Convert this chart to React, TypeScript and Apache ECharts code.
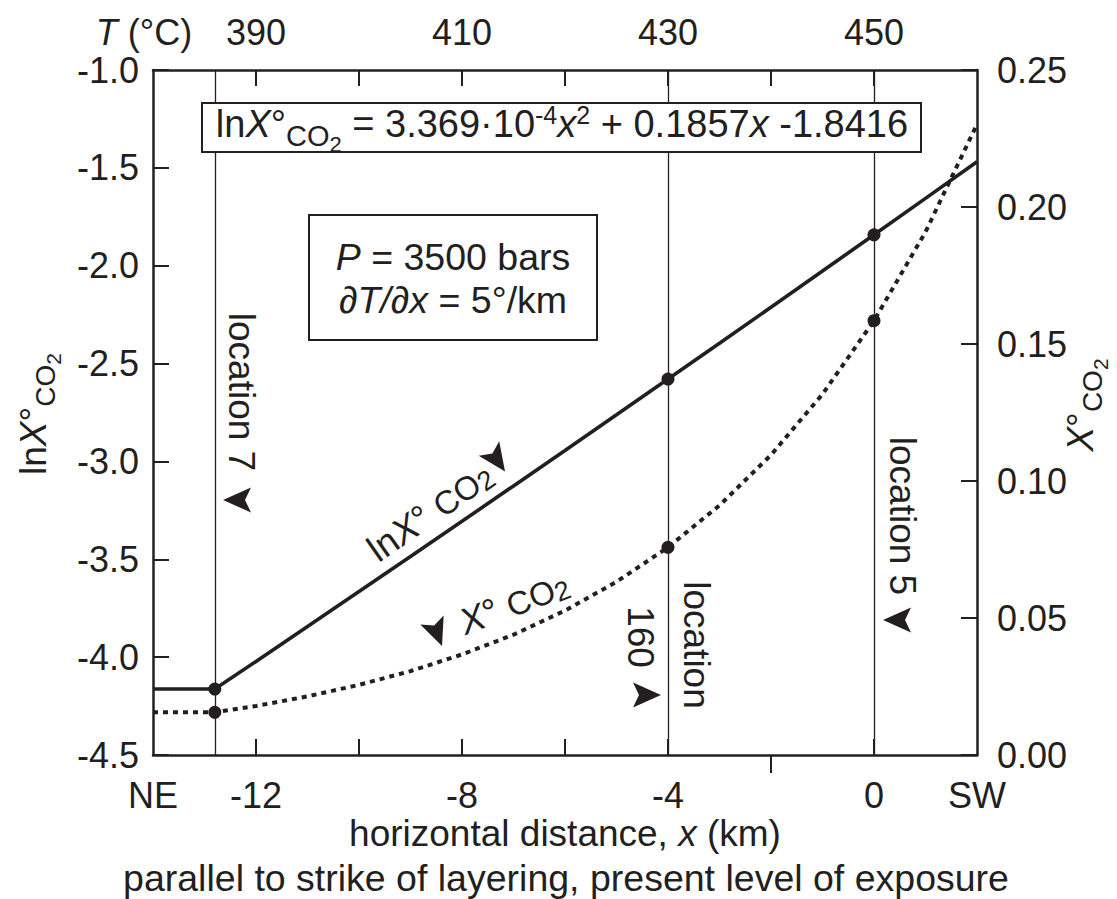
import React, { useEffect, useRef } from 'react';
import * as echarts from 'echarts';

// ---------- values ----------
const distanceKm = [-14, -12.8, -12, -11, -10, -9, -8, -7, -6, -5, -4, -3, -2, -1, 0, 1, 2];
const lnXco2 = [-4.163, -4.163, -4.022, -3.844, -3.665, -3.486, -3.306, -3.125, -2.944, -2.762, -2.579, -2.396, -2.212, -2.027, -1.842, -1.656, -1.469];
const xco2 = [0.0156, 0.0156, 0.0179, 0.0214, 0.0256, 0.0306, 0.0367, 0.0439, 0.0527, 0.0632, 0.0758, 0.0911, 0.1095, 0.1317, 0.1585, 0.1909, 0.2302];

const locationKm = [-12.8, -4, 0];
const locationLnX = [-4.163, -2.579, -1.842];
const locationX = [0.0156, 0.0758, 0.1585];

const distanceLabelValues = [-14, -12, -8, -4, 0, 2];
const distanceEndNames = ['NE', 'SW'];
const distanceTicksInside = [-12, -10, -8, -6, -4, 0];
const distanceTicksOutside = [-2];
const tempLabelValues = [390, 410, 430, 450];
const tempTickValues = [390, 400, 410, 420, 430, 440, 450];

const INK = '#231f20';
const FONT = '"Liberation Sans", Arial, Helvetica, sans-serif';

let measureCtx: CanvasRenderingContext2D | null = null;
function textWidth(t: string, size: number, italic: boolean): number {
  if (!measureCtx) measureCtx = document.createElement('canvas').getContext('2d');
  if (!measureCtx) return t.length * size * 0.55;
  measureCtx.font = `${italic ? 'italic ' : ''}${size}px ${FONT}`;
  return measureCtx.measureText(t).width;
}

type Tok = { t: string; s?: number; i?: boolean; dy?: number; dx?: number };

function tokenGroup(tokens: Tok[], base: number, x: number, y: number, rotation = 0, z = 20): any {
  let cursor = 0;
  const placed = tokens.map((tok) => {
    const s = tok.s ?? base;
    const start = cursor + (tok.dx ?? 0);
    cursor = start + textWidth(tok.t, s, !!tok.i);
    const dy = 0.34 * (base - s) + (tok.dy ?? 0);
    return { tok, s, start, dy };
  });
  const off = -cursor / 2;
  return {
    type: 'group',
    x,
    y,
    rotation,
    z,
    children: placed.map(({ tok, s, start, dy }) => ({
      type: 'text',
      x: off + start,
      y: dy,
      z,
      style: {
        text: tok.t,
        fontSize: s,
        fontFamily: FONT,
        fontStyle: tok.i ? 'italic' : 'normal',
        fill: INK,
        align: 'left',
        verticalAlign: 'middle',
        lineHeight: Math.round(s * 0.8),
      },
    })),
  };
}

function arrowHead(x: number, y: number, deg: number, z = 20): any {
  const L = 28;
  const W = 25;
  const N = 6;
  return {
    type: 'polygon',
    x,
    y,
    rotation: (deg * Math.PI) / 180,
    z,
    shape: {
      points: [
        [L / 2, 0],
        [-L / 2, -W / 2],
        [-L / 2 + N, 0],
        [-L / 2, W / 2],
      ],
    },
    style: { fill: INK },
  };
}

const deg = (d: number) => (d * Math.PI) / 180;

function buildOption(): any {
  const axisLine = { show: true, onZero: false, lineStyle: { color: INK, width: 2.5 } };
  const tickStyle = { color: INK, width: 2 };
  const labelBase = { color: INK, fontSize: 36, fontFamily: FONT, lineHeight: 28 };

  return {
    animation: false,
    backgroundColor: '#ffffff',
    textStyle: { fontFamily: FONT, color: INK },
    grid: { left: 153, top: 70, width: 824, height: 685, containLabel: false },
    xAxis: [
      {
        type: 'value',
        position: 'bottom',
        min: -14,
        max: 2,
        interval: 2,
        axisLine,
        axisTick: { show: true, inside: true, length: 16, customValues: distanceTicksInside, lineStyle: tickStyle },
        axisLabel: {
          ...labelBase,
          margin: 26,
          customValues: distanceLabelValues,
          formatter: (v: number) =>
            v === distanceLabelValues[0] ? distanceEndNames[0] : v === distanceLabelValues[distanceLabelValues.length - 1] ? distanceEndNames[1] : String(v),
        },
        splitLine: { show: false },
      },
      {
        type: 'value',
        position: 'bottom',
        min: -14,
        max: 2,
        interval: 2,
        axisLine: { show: false, onZero: false },
        axisTick: { show: true, inside: false, length: 18, customValues: distanceTicksOutside, lineStyle: tickStyle },
        axisLabel: { show: false },
        splitLine: { show: false },
      },
      {
        type: 'value',
        position: 'top',
        min: 380,
        max: 460,
        interval: 10,
        axisLine,
        axisTick: { show: true, inside: true, length: 16, customValues: tempTickValues, lineStyle: tickStyle },
        axisLabel: { ...labelBase, margin: 24, customValues: tempLabelValues },
        splitLine: { show: false },
      },
    ],
    yAxis: [
      {
        type: 'value',
        position: 'left',
        min: -4.5,
        max: -1,
        interval: 0.5,
        axisLine,
        axisTick: { show: true, inside: true, length: 16, lineStyle: tickStyle },
        axisLabel: { ...labelBase, margin: 14, formatter: (v: number) => v.toFixed(1) },
        splitLine: { show: false },
      },
      {
        type: 'value',
        position: 'right',
        min: 0,
        max: 0.25,
        interval: 0.05,
        axisLine,
        axisTick: { show: true, inside: true, length: 16, lineStyle: tickStyle },
        axisLabel: { ...labelBase, margin: 20, formatter: (v: number) => v.toFixed(2) },
        splitLine: { show: false },
      },
    ],
    series: [
      {
        type: 'line',
        name: 'lnX',
        xAxisIndex: 0,
        yAxisIndex: 0,
        data: distanceKm.map((d, i) => [d, lnXco2[i]]),
        symbol: 'none',
        showSymbol: false,
        lineStyle: { color: INK, width: 3.6 },
        z: 3,
        markLine: {
          silent: true,
          symbol: ['none', 'none'],
          label: { show: false },
          lineStyle: { color: INK, width: 1.3, type: 'solid' },
          emphasis: { disabled: true },
          data: locationKm.map((v) => ({ xAxis: v })),
        },
      },
      {
        type: 'line',
        name: 'X',
        xAxisIndex: 0,
        yAxisIndex: 1,
        data: distanceKm.map((d, i) => [d, xco2[i]]),
        symbol: 'none',
        showSymbol: false,
        lineStyle: { color: INK, width: 4, type: [5, 5], cap: 'butt' },
        z: 3,
      },
      {
        type: 'scatter',
        xAxisIndex: 0,
        yAxisIndex: 0,
        data: locationKm.map((v, i) => [v, locationLnX[i]]),
        symbol: 'circle',
        symbolSize: 13,
        itemStyle: { color: INK, opacity: 1 },
        z: 4,
      },
      {
        type: 'scatter',
        xAxisIndex: 0,
        yAxisIndex: 1,
        data: locationKm.map((v, i) => [v, locationX[i]]),
        symbol: 'circle',
        symbolSize: 13,
        itemStyle: { color: INK, opacity: 1 },
        z: 4,
      },
    ],
    graphic: [
      // equation box
      { type: 'rect', z: 10, shape: { x: 202, y: 103, width: 719, height: 49 }, style: { fill: '#ffffff', stroke: INK, lineWidth: 2 } },
      tokenGroup(
        [
          { t: 'ln' },
          { t: 'X', i: true },
          { t: '°' },
          { t: 'CO', s: 29, dy: 9 },
          { t: '2', s: 22, dy: 15 },
          { t: ' = 3.369·10' },
          { t: '-4', s: 25, dy: -13 },
          { t: 'x', i: true },
          { t: '2', s: 25, dy: -13 },
          { t: ' + 0.1857' },
          { t: 'x', i: true },
          { t: ' -1.8416' },
        ],
        38,
        562,
        124
      ),
      // P box
      { type: 'rect', z: 10, shape: { x: 309, y: 215, width: 288, height: 125 }, style: { fill: '#ffffff', stroke: INK, lineWidth: 2 } },
      tokenGroup([{ t: 'P', i: true }, { t: ' = 3500 bars' }], 37.5, 453, 257),
      tokenGroup([{ t: '∂T/∂x', i: true }, { t: ' = 5°/km' }], 37.5, 453, 300),
      // top axis title
      tokenGroup([{ t: 'T', i: true }, { t: ' (°C)' }], 36, 144, 32),
      // y axis titles
      tokenGroup([{ t: 'ln' }, { t: 'X', i: true }, { t: '°' }, { t: 'CO', s: 28, dy: 9 }, { t: '2', s: 21, dy: 15 }], 37, 33, 414, Math.PI / 2),
      tokenGroup([{ t: 'X', i: true }, { t: '°' }, { t: 'CO', s: 28, dy: 9 }, { t: '2', s: 21, dy: 15 }], 37, 1080, 405, Math.PI / 2),
      // x axis titles
      tokenGroup([{ t: 'horizontal distance, ' }, { t: 'x', i: true }, { t: ' (km)' }], 37, 565, 833),
      tokenGroup([{ t: 'parallel to strike of layering, present level of exposure' }], 37.5, 566, 878),
      // curve labels
      tokenGroup([{ t: 'ln' }, { t: 'X', i: true }, { t: '° ' }, { t: 'CO', s: 33 }, { t: '2', s: 27, dy: 3 }], 37, 430, 512, deg(35)),
      arrowHead(497, 460, -55),
      tokenGroup([{ t: 'X', i: true }, { t: '° ' }, { t: 'CO', s: 33 }, { t: '2', s: 27, dy: 3 }], 37, 514, 603, deg(21)),
      arrowHead(437, 633, -69),
      // location labels
      tokenGroup([{ t: 'location 7' }], 37, 241, 392, -Math.PI / 2),
      arrowHead(237, 500, 180),
      tokenGroup([{ t: 'location' }], 37, 696, 645, -Math.PI / 2),
      tokenGroup([{ t: '160' }], 37, 640, 637, -Math.PI / 2),
      arrowHead(647, 695, 0),
      tokenGroup([{ t: 'location 5' }], 37, 902, 516, -Math.PI / 2),
      arrowHead(897, 620, 180),
    ],
  };
}

export default function App() {
  const ref = useRef<HTMLDivElement>(null);
  useEffect(() => {
    if (!ref.current) return;
    const chart = echarts.init(ref.current, undefined, { renderer: 'svg' });
    chart.setOption(buildOption());
    return () => {
      chart.dispose();
    };
  }, []);
  return (
    <div
      ref={ref}
      style={{ position: 'absolute', left: 0, top: 0, width: 1117, height: 899, background: '#ffffff' }}
    />
  );
}
